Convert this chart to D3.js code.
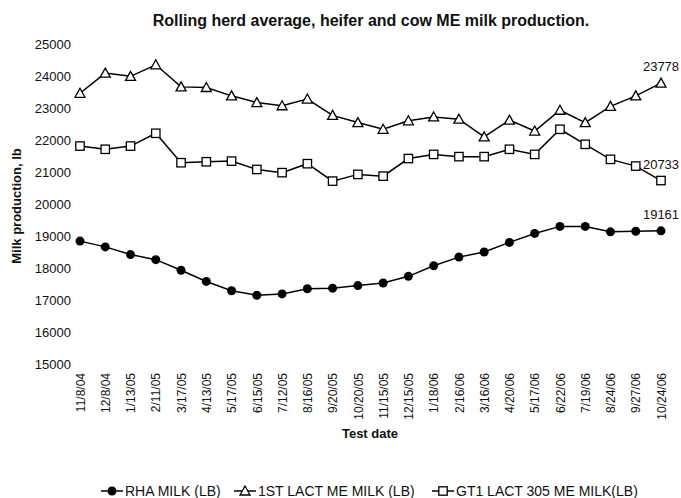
<!DOCTYPE html>
<html>
<head>
<meta charset="utf-8">
<script src="https://cdn.jsdelivr.net/npm/d3@7"></script>
<style>
  body { margin: 0; background: #fff; }
  text { font-family: Arial, "Liberation Sans", sans-serif; fill: #111; }
</style>
</head>
<body>
<div id="chart"></div>
<script>
const dates = ["11/8/04", "12/8/04", "1/13/05", "2/11/05", "3/17/05", "4/13/05", "5/17/05",
  "6/15/05", "7/12/05", "8/16/05", "9/20/05", "10/20/05", "11/15/05", "12/15/05", "1/18/06",
  "2/16/06", "3/16/06", "4/20/06", "5/17/06", "6/22/06", "7/19/06", "8/24/06", "9/27/06", "10/24/06"];

const rhaMilk = [18840, 18660, 18420, 18260, 17930, 17580, 17290, 17150, 17190, 17350, 17370,
  17450, 17530, 17740, 18070, 18340, 18500, 18800, 19080, 19300, 19300, 19130, 19150, 19161];

const firstLactMilk = [23460, 24090, 23990, 24350, 23660, 23640, 23380, 23170, 23070, 23280, 22770,
  22545, 22335, 22600, 22720, 22650, 22095, 22620, 22280, 22930, 22545, 23050, 23380, 23778];

const gt1LactMilk = [21810, 21710, 21810, 22210, 21290, 21320, 21340, 21080, 20980, 21260, 20715,
  20925, 20870, 21420, 21550, 21480, 21480, 21710, 21550, 22335, 21865, 21395, 21185, 20733];

const yTicks = [15000, 16000, 17000, 18000, 19000, 20000, 21000, 22000, 23000, 24000, 25000];

const series = [
  { name: "RHA MILK (LB)", values: rhaMilk, symbol: "circle" },
  { name: "1ST LACT ME MILK (LB)", values: firstLactMilk, symbol: "triangle" },
  { name: "GT1 LACT 305 ME MILK(LB)", values: gt1LactMilk, symbol: "square" }
];

const width = 681, height = 498;

const svg = d3.select("#chart")
  .append("svg")
  .attr("width", width)
  .attr("height", height);

const x = d3.scalePoint().domain(dates).range([80, 661]);
const y = d3.scaleLinear().domain([15000, 25000]).range([364, 44]);

// title
svg.append("text")
  .attr("x", 371)
  .attr("y", 26)
  .attr("text-anchor", "middle")
  .style("font-size", "16px")
  .style("font-weight", "bold")
  .text("Rolling herd average, heifer and cow ME milk production.");

// y axis (labels only)
const yAxisG = svg.append("g")
  .attr("transform", "translate(71,0)")
  .call(d3.axisLeft(y).tickValues(yTicks).tickSize(0).tickPadding(0).tickFormat(d3.format("d")));
yAxisG.select(".domain").remove();
yAxisG.selectAll("text")
  .style("font-size", "13px")
  .attr("font-family", null);

svg.append("text")
  .attr("transform", "translate(21,206) rotate(-90)")
  .attr("text-anchor", "middle")
  .style("font-size", "13px")
  .style("font-weight", "bold")
  .text("Milk production, lb");

// x axis (rotated labels)
const xAxisG = svg.append("g")
  .attr("transform", "translate(0,368)")
  .call(d3.axisBottom(x).tickSize(0));
xAxisG.select(".domain").remove();
xAxisG.selectAll("text")
  .attr("transform", "rotate(-90)")
  .attr("text-anchor", "end")
  .attr("x", -5)
  .attr("y", 0)
  .attr("dy", ".35em")
  .attr("font-family", null)
  .style("font-size", "12px");

svg.append("text")
  .attr("x", 370)
  .attr("y", 438)
  .attr("text-anchor", "middle")
  .style("font-size", "13px")
  .style("font-weight", "bold")
  .text("Test date");

function drawSymbol(g, type) {
  if (type == "circle") {
    g.append("circle").attr("r", 4.5).attr("fill", "#000");
  } else if (type == "triangle") {
    g.append("path").attr("d", "M0,-5L5,4L-5,4Z")
      .attr("fill", "#fff").attr("stroke", "#000").attr("stroke-width", 1.3);
  } else {
    g.append("rect").attr("x", -4.2).attr("y", -4.2).attr("width", 8.4).attr("height", 8.4)
      .attr("fill", "#fff").attr("stroke", "#000").attr("stroke-width", 1.3);
  }
}

const line = d3.line()
  .x(function (d, i) { return x(dates[i]); })
  .y(function (d) { return y(d); });

series.forEach(function (s) {
  svg.append("path")
    .datum(s.values)
    .attr("d", line)
    .attr("fill", "none")
    .attr("stroke", "#000")
    .attr("stroke-width", 1.5);

  svg.selectAll(".pt-" + s.symbol)
    .data(s.values)
    .enter()
    .append("g")
    .attr("class", "pt-" + s.symbol)
    .attr("transform", function (d, i) { return "translate(" + x(dates[i]) + "," + y(d) + ")"; })
    .each(function () { drawSymbol(d3.select(this), s.symbol); });

  // last value label
  const last = s.values[s.values.length - 1];
  svg.append("text")
    .attr("x", x(dates[dates.length - 1]))
    .attr("y", y(last) - 12)
    .attr("text-anchor", "middle")
    .style("font-size", "13px")
    .text(last);
});

// legend
const legendX = [101, 234, 432];
const ly = 491;
series.forEach(function (s, i) {
  const g = svg.append("g").attr("transform", "translate(" + legendX[i] + "," + ly + ")");
  g.append("line")
    .attr("x1", 0).attr("x2", 22)
    .attr("stroke", "#000").attr("stroke-width", 1.5);
  const m = g.append("g").attr("transform", "translate(11,0)");
  drawSymbol(m, s.symbol);
  g.append("text")
    .attr("x", 24)
    .attr("dy", ".35em")
    .style("font-size", "14px")
    .text(s.name);
});
</script>
</body>
</html>
